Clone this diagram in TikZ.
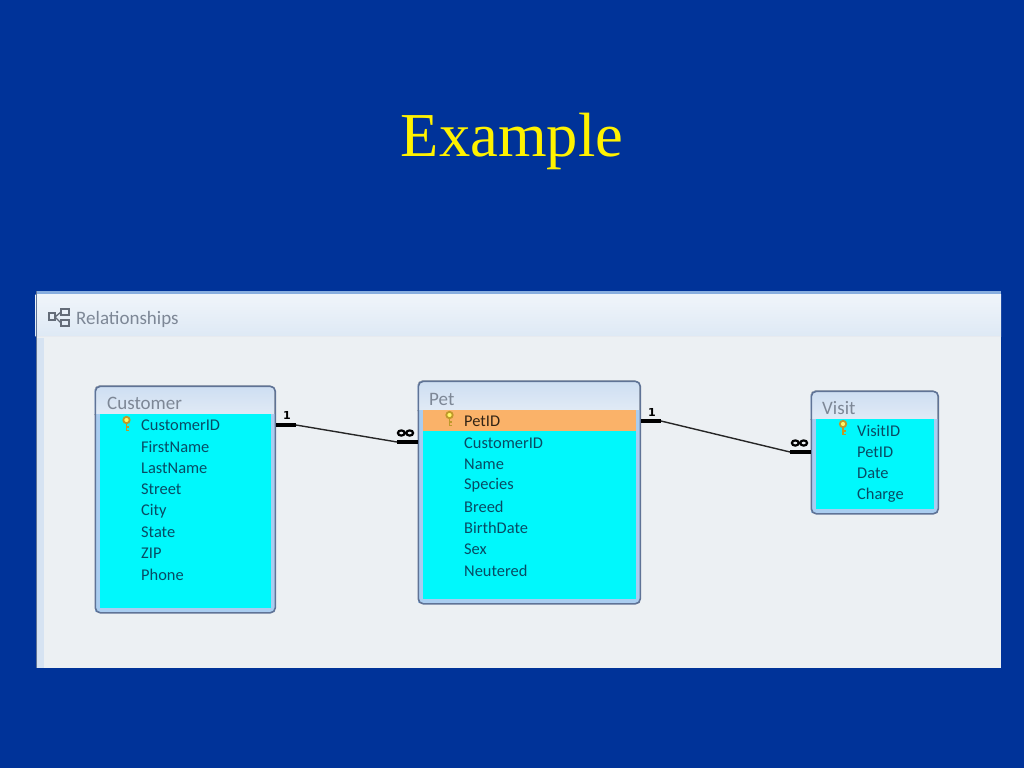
\documentclass[tikz,border=0pt]{standalone}
\usepackage{fontspec}
\setmainfont{Liberation Serif}
\newfontfamily\uifont{Carlito}
\newfontfamily\markfont{DejaVu Sans}[Scale=1]
\usetikzlibrary{calc}
\definecolor{slidebg}{RGB}{0,51,153}
\definecolor{winbg}{RGB}{236,240,243}
\definecolor{winhead}{RGB}{222,233,245}
\definecolor{winheadtop}{RGB}{240,245,250}
\definecolor{wintext}{RGB}{125,135,150}
\definecolor{tblborder}{RGB}{95,115,150}
\definecolor{tblhead}{RGB}{205,222,242}
\definecolor{tblheadlow}{RGB}{228,236,246}
\definecolor{tblbottom}{RGB}{170,205,240}
\definecolor{cyanfill}{RGB}{0,248,252}
\definecolor{fieldtext}{RGB}{8,75,100}
\definecolor{orangerow}{RGB}{250,178,105}
\definecolor{keygold}{RGB}{225,180,50}
\tikzset{
  fieldlabel/.style={anchor=west,inner sep=0pt,font=\uifont\fontsize{16.4}{16.4}\selectfont,text=fieldtext},
  tabletitle/.style={anchor=west,inner sep=0pt,font=\uifont\fontsize{19}{19}\selectfont,text=wintext},
  stub/.style={line width=3.8pt,black},
  link/.style={line width=1.4pt,black!85},
  endmark/.style={inner sep=0pt,font=\markfont\bfseries\fontsize{11}{11}\selectfont,text=black},
  keyicon/.style={draw=keygold!85!black,line width=1.8pt}
}
% #1 x, #2 y: key centre
\newcommand{\keyat}[2]{%
  \draw[keyicon,fill=yellow!60] (#1,#2-3) circle (3.2);
  \draw[keyicon] (#1,#2) -- (#1,#2+8) (#1,#2+4) -- (#1+2.5,#2+4) (#1,#2+7.5) -- (#1+2.5,#2+7.5);
}
% #1 name, #2 left, #3 top, #4 right, #5 bottom, #6 head bottom
\newcommand{\tablebox}[6]{%
  \fill[top color=tblhead,bottom color=tblheadlow,rounded corners=5] (#2,#3) rectangle (#4,#6+5);
  \fill[tblbottom] (#2,#6) rectangle (#4,#5);
  \fill[cyanfill] (#2+5,#6) rectangle (#4-4,#5-4);
  \node[draw=tblborder,line width=1.6pt,fill=none,rounded corners=5,inner sep=0pt,minimum width=#4-#2,minimum height=#5-#3,anchor=north west] (#1) at (#2,#3) {};
}
\begin{document}
\begin{tikzpicture}[x=1pt,y=-1pt]
\useasboundingbox (0,0) rectangle (1024,768);
\fill[slidebg] (0,0) rectangle (1024,768);
\node[inner sep=0pt,text=yellow,font=\fontsize{62.5}{62.5}\selectfont] (title) at (512,141) {Example};
% window
\fill[winbg] (35.5,291) rectangle (1001,668);
\fill[top color=winheadtop,bottom color=winhead] (35.5,294) rectangle (1001,336);
\fill[tblbottom!80!slidebg] (35.5,291) rectangle (1001,294);
\draw[white!85!tblborder,line width=1pt] (35.5,336.5) -- (1001,336.5);
\fill[tblhead!70!winbg] (35.5,338) rectangle (44,668);
\fill[tblborder] (35.5,291) rectangle (36.5,668);
\node[anchor=west,inner sep=0pt,text=wintext,font=\uifont\fontsize{19}{19}\selectfont] (wintitle) at (76,319.5) {Relationships};
\begin{scope}[draw=wintext!80!black,line width=1.3pt]
\draw (49,313) rectangle (55,320);
\draw (61,309) rectangle (69,315);
\draw (61,320) rectangle (69,326);
\draw (55,317) -- (61,312) (55,317) -- (61,323);
\end{scope}
% Customer
\tablebox{customer}{94.5}{385.5}{274.5}{612}{414}
\node[tabletitle] (customertitle) at (107,403.5) {Customer};
\keyat{126.5}{423}
\node[fieldlabel] (c1) at (141,425.5) {CustomerID};
\node[fieldlabel] (c2) at (141,446.8) {FirstName};
\node[fieldlabel] (c3) at (141,468.1) {LastName};
\node[fieldlabel] (c4) at (141,489.5) {Street};
\node[fieldlabel] (c5) at (141,510.8) {City};
\node[fieldlabel] (c6) at (141,532.1) {State};
\node[fieldlabel] (c7) at (141,553.5) {ZIP};
\node[fieldlabel] (c8) at (141,574.8) {Phone};
% Pet
\tablebox{pet}{417.5}{380.5}{639.5}{603}{410}
\node[tabletitle] (pettitle) at (429,399) {Pet};
\fill[orangerow] (422.5,410) rectangle (635.5,431);
\keyat{449.5}{418}
\node[fieldlabel,text=black!80!orangerow] (p1) at (464,421.5) {PetID};
\node[fieldlabel] (p2) at (464,442.8) {CustomerID};
\node[fieldlabel] (p3) at (464,464.1) {Name};
\node[fieldlabel] (p4) at (464,485.5) {Species};
\node[fieldlabel] (p5) at (464,506.8) {Breed};
\node[fieldlabel] (p6) at (464,528.1) {BirthDate};
\node[fieldlabel] (p7) at (464,549.5) {Sex};
\node[fieldlabel] (p8) at (464,570.8) {Neutered};
% Visit
\tablebox{visit}{810.5}{390.5}{937.5}{513}{419}
\node[tabletitle] (visittitle) at (822,408.5) {Visit};
\keyat{843}{427}
\node[fieldlabel] (v1) at (857,430.5) {VisitID};
\node[fieldlabel] (v2) at (857,452) {PetID};
\node[fieldlabel] (v3) at (857,473.5) {Date};
\node[fieldlabel] (v4) at (857,495) {Charge};
% connectors
\coordinate (a1) at (customer.north east |- 0,425);
\coordinate (a2) at (296,425);
\coordinate (a3) at (397,442);
\coordinate (a4) at (pet.north west |- 0,442);
\draw[stub] (a1) -- (a2);
\draw[link] (a2) -- (a3);
\draw[stub] (a3) -- (a4);
\coordinate (b1) at (pet.north east |- 0,421);
\coordinate (b2) at (661,421);
\coordinate (b3) at (790,452);
\coordinate (b4) at (visit.north west |- 0,452);
\draw[stub] (b1) -- (b2);
\draw[link] (b2) -- (b3);
\draw[stub] (b3) -- (b4);
\node[endmark] (m1) at (287,415.5) {1};
\node[endmark] (m2) at (652,412) {1};
\foreach \cx/\cy in {405.5/433, 799.5/443}{
  \draw[black,line width=2.2pt] (\cx-4.2,\cy) circle (3.4 and 2.6) (\cx+4.2,\cy) circle (3.4 and 2.6);
}
\end{tikzpicture}
\end{document}
